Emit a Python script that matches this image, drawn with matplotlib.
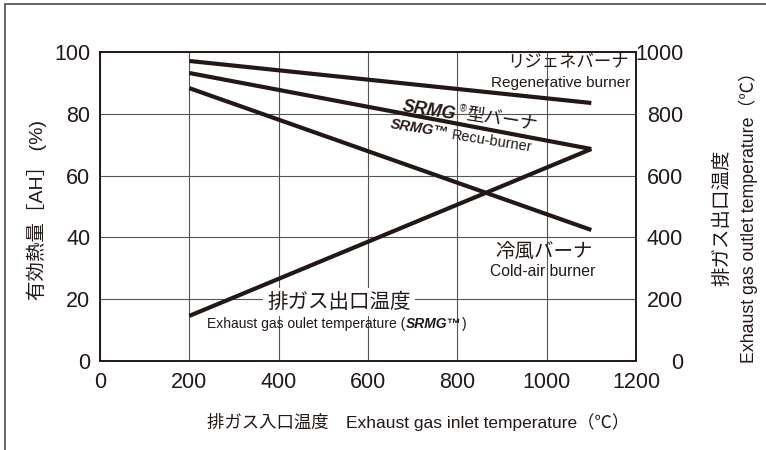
import matplotlib
matplotlib.use('Agg')
import matplotlib.pyplot as plt
from matplotlib.patches import Rectangle

plt.rcParams['font.family'] = ['Liberation Sans', 'Noto Sans CJK JP', 'DejaVu Sans']

# inlet temperature (C)
inlet = [200, 1100]
# available heat [AH] (%)
regen_ah = [97.1, 83.5]
srmg_ah = [93.2, 68.6]
cold_ah = [88.3, 42.4]
# exhaust gas outlet temperature of SRMG (C), right axis
outlet_temp = [146, 686]

x_ticks = [0, 200, 400, 600, 800, 1000, 1200]
left_ticks = [0, 20, 40, 60, 80, 100]
right_ticks = [0, 200, 400, 600, 800, 1000]

LINE = '#231815'
TXT = '#231815'
W, H = 766, 450

def px(x, y):
	# pixel position (from top-left) -> figure fraction
	return x / W, 1 - y / H

fig = plt.figure(figsize=(7.66, 4.5), dpi=100)
fig.patches.append(Rectangle((4.5 / W, -0.1), 1.2, 1.1 - 4.5 / H, transform=fig.transFigure,
                             fill=False, edgecolor='#4a4a4a', linewidth=1.2))

ax = fig.add_axes([100 / W, 1 - 361 / H, 536 / W, 309 / H])
ax.set_xlim(0, 1200)
ax.set_ylim(0, 100)
ax.set_xticks(x_ticks)
ax.set_yticks(left_ticks)
ax.grid(True, color='#555555', linewidth=0.8)
ax.tick_params(length=0, labelsize=15.5, colors=TXT)
ax.tick_params(axis='x', pad=8)
ax.tick_params(axis='y', pad=7)
for s in ax.spines.values():
	s.set_color(LINE)
	s.set_linewidth(1.2)

ax2 = ax.twinx()
ax2.set_ylim(0, 1000)
ax2.set_yticks(right_ticks)
ax2.tick_params(length=0, labelsize=15.5, colors=TXT, pad=34)
for lbl in ax2.get_yticklabels():
	lbl.set_horizontalalignment('right')
for s in ax2.spines.values():
	s.set_color(LINE)
	s.set_linewidth(1.2)

lw = 3.0
ax.plot(inlet, regen_ah, color=LINE, lw=lw, solid_capstyle='butt', zorder=5)
ax.plot(inlet, srmg_ah, color=LINE, lw=lw, solid_capstyle='butt', zorder=5)
ax.plot(inlet, cold_ah, color=LINE, lw=lw, solid_capstyle='butt', zorder=5)
ax2.plot(inlet, outlet_temp, color=LINE, lw=lw, solid_capstyle='butt', zorder=5)

# curve labels
fig.text(*px(629, 63), 'リジェネバーナ', ha='right', va='center', fontsize=12.5, color=TXT)
fig.text(*px(630, 83), 'Regenerative burner', ha='right', va='center', fontsize=11, color=TXT)

rot = -9
fig.text(*px(429, 111), 'SRMG', ha='center', va='center', fontsize=13, fontweight='bold',
         fontstyle='italic', rotation=rot, rotation_mode='anchor', color=TXT)
fig.text(*px(463, 109), '®', ha='center', va='center', fontsize=7, rotation=rot,
         rotation_mode='anchor', color=TXT)
fig.text(*px(502, 120), '型バーナ', ha='center', va='center', fontsize=13, rotation=rot,
         rotation_mode='anchor', color=TXT)

fig.text(*px(419, 129), 'SRMG™', ha='center', va='center', fontsize=10.5, fontweight='bold',
         fontstyle='italic', rotation=rot, rotation_mode='anchor', color=TXT)
fig.text(*px(492, 141), 'Recu-burner', ha='center', va='center', fontsize=10.5, rotation=rot,
         rotation_mode='anchor', color=TXT)

fig.text(*px(544, 252), '冷風バーナ', ha='center', va='center', fontsize=14, color=TXT)
fig.text(*px(543, 272), 'Cold-air burner', ha='center', va='center', fontsize=11.3, color=TXT)

fig.text(*px(339, 302), '排ガス出口温度', ha='center', va='center', fontsize=14.8, color=TXT,
         bbox=dict(facecolor='white', edgecolor='none', pad=3))
fig.text(*px(207, 324), 'Exhaust gas oulet temperature (', ha='left', va='center',
         fontsize=10, color=TXT)
fig.text(*px(406, 324), 'SRMG™', ha='left', va='center', fontsize=10,
         fontweight='bold', fontstyle='italic', color=TXT)
fig.text(*px(462, 324), ')', ha='left', va='center', fontsize=10, color=TXT)

# axis labels
fig.text(*px(37, 210), '有効熱量［AH］ (%)', rotation=90, ha='center', va='center',
         fontsize=14, color=TXT)
fig.text(*px(722, 218), '排ガス出口温度', rotation=90, ha='center', va='center',
         fontsize=14, color=TXT)
fig.text(*px(748, 213), 'Exhaust gas outlet temperature（℃）', rotation=90, ha='center',
         va='center', fontsize=12.8, color=TXT)
fig.text(*px(418, 422), '排ガス入口温度　Exhaust gas inlet temperature（℃）', ha='center',
         va='center', fontsize=12.5, color=TXT)

fig.savefig('out.png', dpi=100)
